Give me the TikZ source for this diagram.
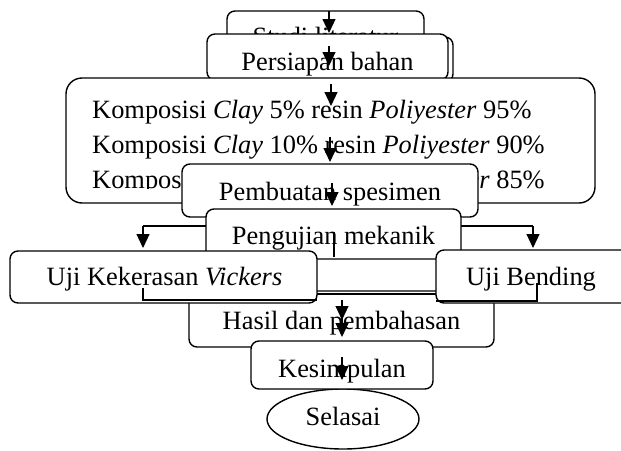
\documentclass[tikz,border=0pt]{standalone}
\usepackage{fontspec}
\setmainfont{Liberation Serif}
\usetikzlibrary{arrows.meta,shapes.geometric}
\newcommand\myfs{\fontsize{26.4}{35}\selectfont}
\tikzset{
  box/.style={draw, fill=white, rounded corners=8pt, line width=1.4pt, inner sep=0pt},
  lbl/.style={anchor=base, inner sep=0pt, font=\myfs},
  lblw/.style={anchor=base west, inner sep=0pt, font=\myfs},
  arr/.style={-{Triangle[length=14pt,width=13pt]}, line width=1.2pt},
  ln/.style={line width=1.2pt}
}
\begin{document}
\begin{tikzpicture}[x=1pt,y=-1pt]
\clip (0,0) rectangle (621,450);
\fill[white] (0,0) rectangle (621,450);
% Studi literatur
\node[box, minimum width=197pt, minimum height=51pt] (studi) at (325.5,36.5) {};
\node[lbl] (tstudi) at (325.5,45.5) {Studi literatur};
% Persiapan bahan (with offset copy)
\node[box, minimum width=241pt, minimum height=45pt] (persiapanb) at (332.5,59.5) {};
\node[box, minimum width=241pt, minimum height=46pt] (persiapan) at (327.5,57) {};
\node[lbl] (tpersiapan) at (327.5,70) {Persiapan bahan};
% Komposisi
\node[box, rounded corners=16pt, minimum width=529pt, minimum height=125pt] (komposisi) at (330.5,140.5) {};
\begin{scope}
\clip (66,78) rectangle (595,188.5);
\node[lblw] (k1) at (92,118) {Komposisi \textit{Clay} 5\% resin \textit{Poliyester} 95\%};
\node[lblw] (k2) at (92,153) {Komposisi \textit{Clay} 10\% resin \textit{Poliyester} 90\%};
\node[lblw] (k3) at (92,188) {Komposisi \textit{Clay} 15\% resin \textit{Poliyester} 85\%};
\end{scope}
% Pembuatan spesimen
\node[box, minimum width=296pt, minimum height=53pt] (pembuatan) at (330,190.5) {};
\node[lbl] (tpembuatan) at (330,200) {Pembuatan spesimen};
% branch behind Pengujian
\coordinate (bl) at (143,226);
\coordinate (br) at (533,226);
\coordinate (blt) at (143,248);
\coordinate (brt) at (533,248);
\draw[ln] (bl) -- (br);
\draw[arr] (bl) -- (blt);
\draw[arr] (br) -- (brt);
% Pengujian mekanik
\node[box, minimum width=255pt, minimum height=50pt] (pengujian) at (333.5,234) {};
\node[lbl] (tpengujian) at (333.5,244) {Pengujian mekanik};
% Hasil dan pembahasan
\node[box, minimum width=305pt, minimum height=56pt] (hasil) at (341.5,319) {};
\node[lbl] (thasil) at (341.5,329) {Hasil dan pembahasan};
% Uji boxes
\node[box, minimum width=307pt, minimum height=52pt] (vickers) at (163.5,277) {};
\node[lbl] (tvickers) at (164.5,285) {Uji Kekerasan \textit{Vickers}};
\node[box, minimum width=194pt, minimum height=53pt] (bending) at (533,276.5) {};
\node[lbl] (tbending) at (531,285) {Uji Bending};
% joining lines
\coordinate (v1) at (143,288);
\coordinate (v2) at (143,300);
\coordinate (v3) at (317,300);
\coordinate (w1) at (537,283);
\coordinate (w2) at (537,301);
\coordinate (w3) at (436,301);
\coordinate (g1) at (317,294);
\coordinate (g2) at (436,294);
\draw[ln] (v1) -- (v2) -- (v3);
\draw[ln] (w1) -- (w2) -- (w3);
\draw[ln] (g1) -- (g2);
% Selasai and Kesimpulan
\node[draw, ellipse, fill=white, line width=1.4pt, minimum width=152pt, minimum height=60pt, inner sep=0pt] (selesai) at (343,419) {};
\node[lbl] (tselesai) at (343,425) {Selasai};
\node[box, minimum width=182pt, minimum height=48pt] (kesimpulan) at (342,365) {};
\node[lbl] (tkesimpulan) at (342,377) {Kesimpulan};
% arrows
\coordinate (a1s) at (329,11);   \coordinate (a1e) at (329,33);
\coordinate (a2s) at (329,46);   \coordinate (a2e) at (329,66);
\coordinate (a3s) at (331,84);   \coordinate (a3e) at (331,106);
\coordinate (a4s) at (330,137);  \coordinate (a4e) at (330,162);
\coordinate (a5s) at (332,183);  \coordinate (a5e) at (332,206);
\coordinate (s1) at (334,232);   \coordinate (s2) at (334,257);
\coordinate (a6s) at (342,300);  \coordinate (a6e) at (342,320);
\coordinate (a7s) at (342,318);  \coordinate (a7e) at (342,337);
\coordinate (a8s) at (342,357);  \coordinate (a8e) at (342,380);
\draw[arr] (a1s) -- (a1e);
\draw[arr] (a2s) -- (a2e);
\draw[arr] (a3s) -- (a3e);
\draw[arr] (a4s) -- (a4e);
\draw[arr] (a5s) -- (a5e);
\draw[ln] (s1) -- (s2);
\draw[arr] (a6s) -- (a6e);
\draw[arr] (a7s) -- (a7e);
\draw[arr] (a8s) -- (a8e);
\end{tikzpicture}
\end{document}
